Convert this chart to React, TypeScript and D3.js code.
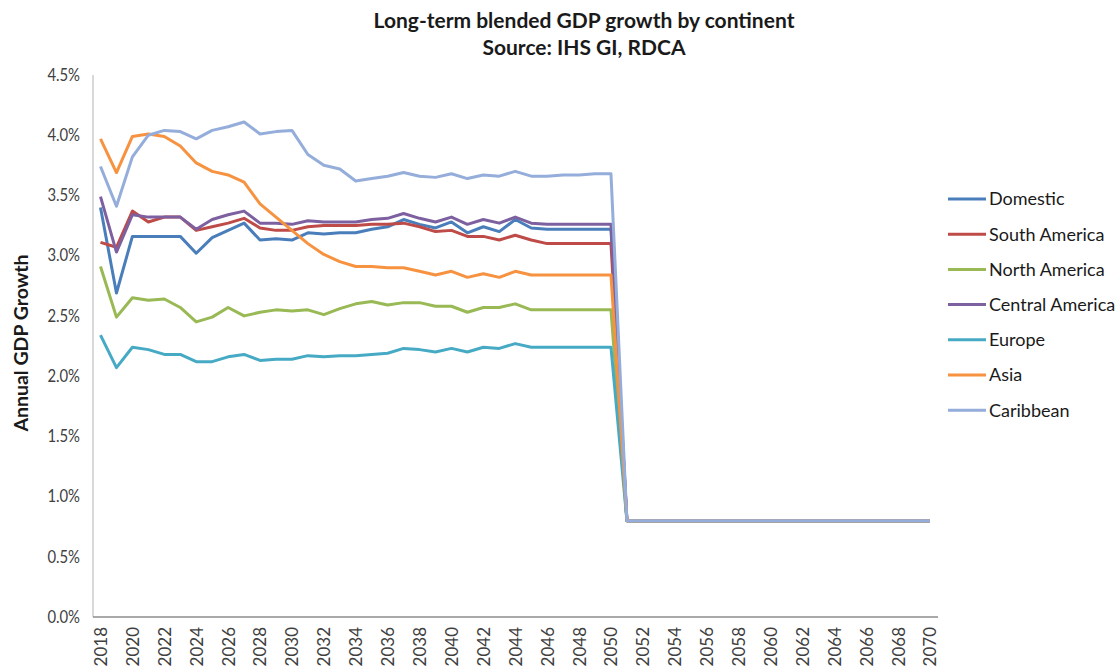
import { useEffect, useRef } from 'react';
import * as d3 from 'd3';

const YEARS = [
  2018, 2019, 2020, 2021, 2022, 2023, 2024, 2025, 2026, 2027, 2028, 2029, 2030, 2031, 2032, 2033, 2034,
  2035, 2036, 2037, 2038, 2039, 2040, 2041, 2042, 2043, 2044, 2045, 2046, 2047, 2048, 2049, 2050,
  2051, 2052, 2053, 2054, 2055, 2056, 2057, 2058, 2059, 2060, 2061, 2062, 2063, 2064, 2065, 2066,
  2067, 2068, 2069, 2070,
];

const YEAR_TICKS = [
  2018, 2020, 2022, 2024, 2026, 2028, 2030, 2032, 2034, 2036, 2038, 2040, 2042, 2044, 2046, 2048,
  2050, 2052, 2054, 2056, 2058, 2060, 2062, 2064, 2066, 2068, 2070,
];

const Y_TICKS = [0, 0.5, 1.0, 1.5, 2.0, 2.5, 3.0, 3.5, 4.0, 4.5];

// 2051-2070: every series sits at the same long-run rate
const LONG_RUN = [0.8, 0.8, 0.8, 0.8, 0.8, 0.8, 0.8, 0.8, 0.8, 0.8, 0.8, 0.8, 0.8, 0.8, 0.8, 0.8, 0.8, 0.8, 0.8, 0.8];

const DOMESTIC = [
  3.4, 2.69, 3.16, 3.16, 3.16, 3.16, 3.02, 3.15, 3.21, 3.27, 3.13, 3.14, 3.13, 3.19, 3.18, 3.19, 3.19,
  3.22, 3.24, 3.3, 3.26, 3.23, 3.28, 3.19, 3.24, 3.2, 3.3, 3.23, 3.22, 3.22, 3.22, 3.22, 3.22,
];
const SOUTH_AMERICA = [
  3.11, 3.07, 3.37, 3.28, 3.32, 3.32, 3.21, 3.24, 3.27, 3.31, 3.23, 3.21, 3.21, 3.24, 3.25, 3.25, 3.25,
  3.26, 3.26, 3.27, 3.24, 3.2, 3.21, 3.16, 3.16, 3.13, 3.17, 3.13, 3.1, 3.1, 3.1, 3.1, 3.1,
];
const NORTH_AMERICA = [
  2.91, 2.49, 2.65, 2.63, 2.64, 2.57, 2.45, 2.49, 2.57, 2.5, 2.53, 2.55, 2.54, 2.55, 2.51, 2.56, 2.6,
  2.62, 2.59, 2.61, 2.61, 2.58, 2.58, 2.53, 2.57, 2.57, 2.6, 2.55, 2.55, 2.55, 2.55, 2.55, 2.55,
];
const CENTRAL_AMERICA = [
  3.49, 3.03, 3.34, 3.32, 3.32, 3.32, 3.22, 3.3, 3.34, 3.37, 3.27, 3.27, 3.26, 3.29, 3.28, 3.28, 3.28,
  3.3, 3.31, 3.35, 3.31, 3.28, 3.32, 3.26, 3.3, 3.27, 3.32, 3.27, 3.26, 3.26, 3.26, 3.26, 3.26,
];
const EUROPE = [
  2.34, 2.07, 2.24, 2.22, 2.18, 2.18, 2.12, 2.12, 2.16, 2.18, 2.13, 2.14, 2.14, 2.17, 2.16, 2.17, 2.17,
  2.18, 2.19, 2.23, 2.22, 2.2, 2.23, 2.2, 2.24, 2.23, 2.27, 2.24, 2.24, 2.24, 2.24, 2.24, 2.24,
];
const ASIA = [
  3.97, 3.69, 3.99, 4.01, 3.99, 3.91, 3.77, 3.7, 3.67, 3.61, 3.43, 3.32, 3.21, 3.1, 3.01, 2.95, 2.91,
  2.91, 2.9, 2.9, 2.87, 2.84, 2.87, 2.82, 2.85, 2.82, 2.87, 2.84, 2.84, 2.84, 2.84, 2.84, 2.84,
];
const CARIBBEAN = [
  3.74, 3.41, 3.82, 4.0, 4.04, 4.03, 3.97, 4.04, 4.07, 4.11, 4.01, 4.03, 4.04, 3.84, 3.75, 3.72, 3.62,
  3.64, 3.66, 3.69, 3.66, 3.65, 3.68, 3.64, 3.67, 3.66, 3.7, 3.66, 3.66, 3.67, 3.67, 3.68, 3.68,
];

const SERIES = [
  { key: 'domestic', label: 'Domestic', color: '#4A7EBB', values: [...DOMESTIC, ...LONG_RUN] },
  { key: 'south', label: 'South America', color: '#BE4B48', values: [...SOUTH_AMERICA, ...LONG_RUN] },
  { key: 'north', label: 'North America', color: '#98B954', values: [...NORTH_AMERICA, ...LONG_RUN] },
  { key: 'central', label: 'Central America', color: '#7D60A0', values: [...CENTRAL_AMERICA, ...LONG_RUN] },
  { key: 'europe', label: 'Europe', color: '#46AAC5', values: [...EUROPE, ...LONG_RUN] },
  { key: 'asia', label: 'Asia', color: '#F69240', values: [...ASIA, ...LONG_RUN] },
  { key: 'caribbean', label: 'Caribbean', color: '#95ADDA', values: [...CARIBBEAN, ...LONG_RUN] },
];

const WIDTH = 1119;
const HEIGHT = 671;
const FONT = 'Lato, "Open Sans", sans-serif';

export default function App() {
  const svgRef = useRef<SVGSVGElement>(null);

  useEffect(() => {
    if (!svgRef.current) return;
    const svg = d3.select(svgRef.current);
    svg.selectAll('*').remove();

    const plot = { left: 93, right: 938, top: 75, bottom: 617 };

    const xScale = d3
      .scalePoint<number>()
      .domain(YEARS)
      .range([plot.left + 7.5, plot.right - 8]);

    const yScale = d3.scaleLinear().domain([0, 4.5]).range([plot.bottom, plot.top]);

    // title - centred on the (cropped) chart area, not the plot
    const title = svg
      .append('text')
      .attr('text-anchor', 'middle')
      .style('font-family', FONT)
      .style('font-weight', 'bold')
      .style('font-size', '21px')
      .attr('fill', '#1a1a1a');
    title.append('tspan').attr('x', 584).attr('y', 28).text('Long-term blended GDP growth by continent');
    title.append('tspan').attr('x', 584).attr('y', 55).text('Source: IHS GI, RDCA');

    // y axis
    const yAxis = d3
      .axisLeft(yScale)
      .tickValues(Y_TICKS)
      .tickSize(0)
      .tickPadding(0)
      .tickFormat((v) => d3.format('.1f')(v as number) + '%');

    const yG = svg.append('g').attr('transform', `translate(${plot.left - 13},0)`).call(yAxis);
    yG.select('.domain').remove();
    yG.selectAll('text')
      .attr('transform', 'scale(0.9,1)')
      .style('font-family', FONT)
      .style('font-size', '16.5px')
      .attr('fill', '#404040');

    svg
      .append('line')
      .attr('x1', plot.left)
      .attr('x2', plot.left)
      .attr('y1', plot.top)
      .attr('y2', plot.bottom)
      .attr('stroke', '#cccccc')
      .attr('stroke-width', 1.5);

    // x axis
    const xAxis = d3
      .axisBottom(xScale)
      .tickValues(YEAR_TICKS)
      .tickSize(0)
      .tickFormat((v) => String(v));

    const xG = svg.append('g').attr('transform', `translate(0,${plot.bottom})`).call(xAxis);
    xG.select('.domain').remove();
    xG.selectAll('text')
      .style('font-family', FONT)
      .style('font-size', '17px')
      .attr('fill', '#404040')
      .attr('transform', 'rotate(-90)')
      .attr('text-anchor', 'end')
      .attr('dy', '0.35em')
      .attr('x', -10)
      .attr('y', 0);

    svg
      .append('line')
      .attr('x1', plot.left)
      .attr('x2', plot.right)
      .attr('y1', plot.bottom)
      .attr('y2', plot.bottom)
      .attr('stroke', '#8c8c8c')
      .attr('stroke-width', 1.5);

    // y axis title
    svg
      .append('text')
      .attr('transform', `translate(21,${(plot.top + plot.bottom) / 2 - 3}) rotate(-90)`)
      .attr('text-anchor', 'middle')
      .attr('dy', '0.35em')
      .style('font-family', FONT)
      .style('font-weight', 'bold')
      .style('font-size', '19.5px')
      .attr('fill', '#1a1a1a')
      .text('Annual GDP Growth');

    // lines
    const line = d3
      .line<number>()
      .x((_, i) => xScale(YEARS[i]) as number)
      .y((d) => yScale(d));

    svg
      .append('g')
      .selectAll('path')
      .data(SERIES)
      .enter()
      .append('path')
      .attr('d', (s) => line(s.values))
      .attr('fill', 'none')
      .attr('stroke', (s) => s.color)
      .attr('stroke-width', 3)
      .attr('stroke-linejoin', 'round');

    // legend
    const legend = svg.append('g').attr('transform', 'translate(948,199)');
    const rows = legend
      .selectAll('g')
      .data(SERIES)
      .enter()
      .append('g')
      .attr('transform', (_, i) => `translate(0,${i * 35.2})`);

    rows
      .append('line')
      .attr('x1', 0)
      .attr('x2', 38)
      .attr('stroke', (s) => s.color)
      .attr('stroke-width', 3);

    rows
      .append('text')
      .attr('x', 41)
      .attr('dy', '0.35em')
      .style('font-family', FONT)
      .style('font-size', '18px')
      .attr('fill', '#1a1a1a')
      .text((s) => s.label);
  }, []);

  return (
    <div style={{ position: 'absolute', left: 0, top: 0, background: '#fff' }}>
      <svg ref={svgRef} width={WIDTH} height={HEIGHT}></svg>
    </div>
  );
}
